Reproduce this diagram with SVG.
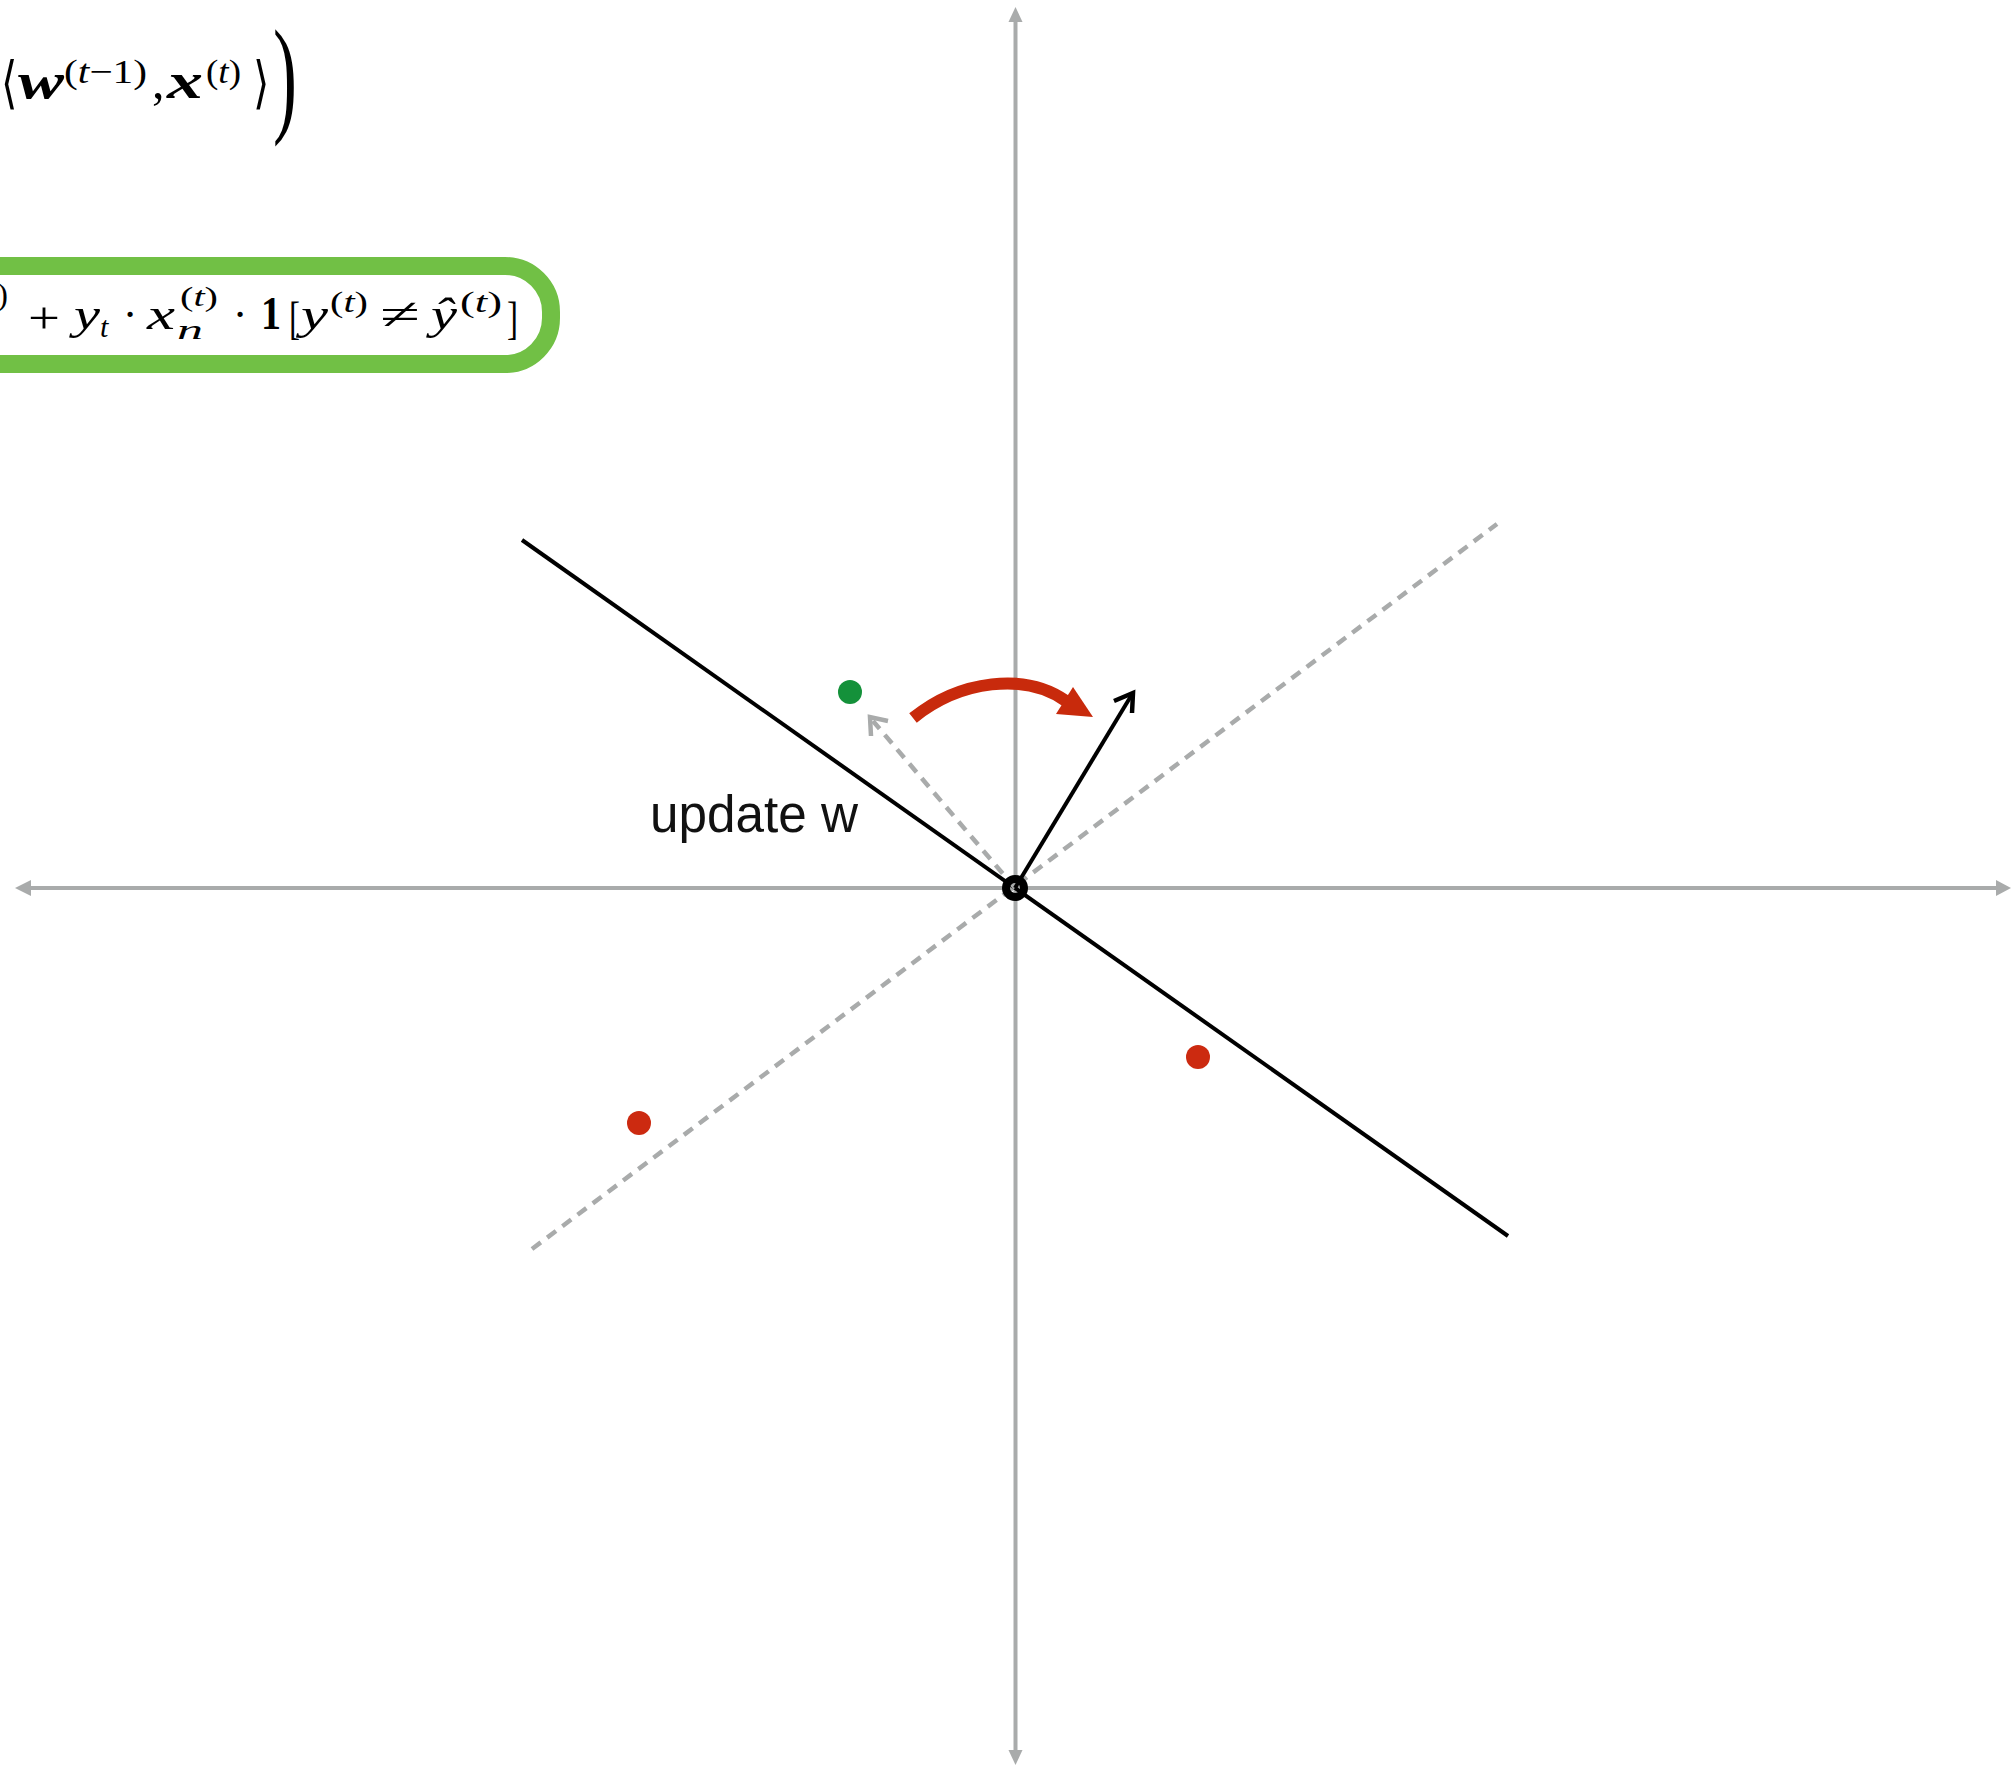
<svg xmlns="http://www.w3.org/2000/svg" width="2012" height="1768" viewBox="0 0 2012 1768">
<defs>
<style>
.axis{stroke:#a9abab;stroke-width:4;fill:none}
.axhead{fill:#a9abab}
.dash{stroke:#a9abab;stroke-width:4.5;fill:none;stroke-dasharray:11 8}
.blk{stroke:#000;stroke-width:4;fill:none}
.m{font-family:"Liberation Serif","DejaVu Serif",serif;fill:#000}
.bi{font-style:italic;font-weight:bold}
.it{font-style:italic}
.lbl{font-family:"Liberation Sans",Arial,sans-serif;font-size:51px;fill:#111}
</style>
</defs>
<rect x="0" y="0" width="2012" height="1768" fill="#fff"/>

<g id="axes">
<line class="axis" x1="1015.5" y1="18" x2="1015.5" y2="1755"/>
<polygon class="axhead" points="1015.5,7 1008.5,22 1022.5,22"/>
<polygon class="axhead" points="1015.5,1765 1008.5,1750 1022.5,1750"/>
<line class="axis" x1="28" y1="888" x2="2000" y2="888"/>
<polygon class="axhead" points="15,888 31,880 31,896"/>
<polygon class="axhead" points="2011,888 1996,880 1996,896"/>
</g>

<g id="connectors">
<line id="dashed-boundary" class="dash" x1="532" y1="1249" x2="1497" y2="524"/>
<line id="boundary" class="blk" x1="522" y1="540" x2="1508" y2="1236"/>
<line id="old-w" class="dash" x1="1015" y1="888" x2="873" y2="721"/>
<polyline class="dash" style="stroke-dasharray:none" points="871,736 870,717 888,721"/>
<line id="new-w" class="blk" x1="1015" y1="888" x2="1131" y2="696"/>
<polyline class="blk" style="stroke-width:4.5" points="1114,701 1133,693 1132,713"/>
<path id="rotate" d="M913,718 C960,680 1025,672 1066,701" stroke="#c82a0c" stroke-width="12" fill="none"/>
<polygon points="1093,717 1073,687 1056,714" fill="#c82a0c"/>
</g>

<g id="origin">
<circle cx="1015" cy="888" r="9" fill="none" stroke="#000" stroke-width="8"/>
</g>

<g id="points">
<circle id="green-point" cx="850" cy="692" r="12" fill="#14913a"/>
<circle id="red-point-1" cx="639" cy="1123" r="12" fill="#cc2a10"/>
<circle id="red-point-2" cx="1198" cy="1057" r="12" fill="#cc2a10"/>
</g>

<g id="label">
<text class="lbl" x="650" y="832" textLength="208" lengthAdjust="spacingAndGlyphs">update w</text>
</g>

<g id="formula-top">
<text class="m" transform="translate(1,102) scale(1,1.35)" font-size="42">⟨</text>
<text class="m bi" x="18" y="98" font-size="50" textLength="46" lengthAdjust="spacingAndGlyphs">w</text>
<text class="m" x="64" y="83" font-size="34" textLength="83" lengthAdjust="spacingAndGlyphs">(<tspan font-style="italic">t</tspan>−1)</text>
<text class="m" x="152" y="98" font-size="50">,</text>
<text class="m bi" x="167" y="98" font-size="50" textLength="36" lengthAdjust="spacingAndGlyphs">x</text>
<text class="m" x="206" y="83" font-size="34" textLength="35" lengthAdjust="spacingAndGlyphs">(<tspan font-style="italic">t</tspan>)</text>
<text class="m" transform="translate(253,102) scale(1,1.35)" font-size="42">⟩</text>
<text class="m" transform="translate(273,119) scale(1,1.8)" font-size="72">)</text>
</g>

<g id="formula-update">
<rect x="-70" y="266" width="621" height="98" rx="46" ry="46" fill="none" stroke="#71c045" stroke-width="18"/>
<text class="m" x="8" y="305" font-size="32" text-anchor="end">)</text>
<text class="m" x="28" y="333" font-size="44" textLength="32" lengthAdjust="spacingAndGlyphs">+</text>
<text class="m it" x="74" y="329" font-size="44" textLength="26" lengthAdjust="spacingAndGlyphs">y</text>
<text class="m it" x="100" y="337" font-size="30">t</text>
<text class="m" x="130" y="329" font-size="44" text-anchor="middle">·</text>
<text class="m it" x="147" y="329" font-size="44" textLength="28" lengthAdjust="spacingAndGlyphs">x</text>
<text class="m" x="180" y="306" font-size="28" textLength="38" lengthAdjust="spacingAndGlyphs">(<tspan font-style="italic">t</tspan>)</text>
<text class="m it" x="177" y="339" font-size="28" textLength="26" lengthAdjust="spacingAndGlyphs">n</text>
<text class="m" x="240" y="329" font-size="44" text-anchor="middle">·</text>
<text class="m" x="261" y="329" font-size="46" font-weight="bold" textLength="20" lengthAdjust="spacingAndGlyphs">1</text>
<text class="m" x="289" y="334" font-size="46" textLength="11" lengthAdjust="spacingAndGlyphs">[</text>
<text class="m it" x="301" y="329" font-size="44" textLength="27" lengthAdjust="spacingAndGlyphs">y</text>
<text class="m" x="330" y="312" font-size="30" textLength="38" lengthAdjust="spacingAndGlyphs">(<tspan font-style="italic">t</tspan>)</text>
<text class="m" x="380" y="329" font-size="44" textLength="40" lengthAdjust="spacingAndGlyphs">≠</text>
<text class="m it" x="431" y="329" font-size="44" textLength="26" lengthAdjust="spacingAndGlyphs">ŷ</text>
<text class="m" x="460" y="312" font-size="30" textLength="42" lengthAdjust="spacingAndGlyphs">(<tspan font-style="italic">t</tspan>)</text>
<text class="m" x="507" y="334" font-size="46" textLength="11" lengthAdjust="spacingAndGlyphs">]</text>
</g>
</svg>
